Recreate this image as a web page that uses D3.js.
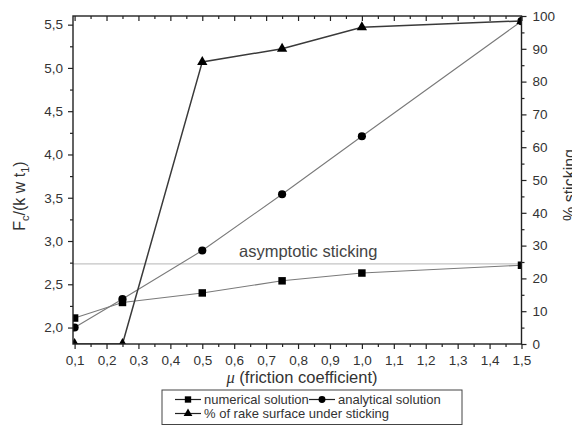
<!DOCTYPE html>
<html>
<head>
<meta charset="utf-8">
<script src="https://cdn.jsdelivr.net/npm/d3@7/dist/d3.min.js"></script>
<style>
  html, body { margin: 0; padding: 0; background: #fff; }
  svg { display: block; font-family: "Liberation Sans", Arial, sans-serif; }
</style>
</head>
<body>
<svg id="chart" width="572" height="426"></svg>
<script>
// Friction coefficient values where the cutting force was evaluated
const mu = [0.1, 0.25, 0.5, 0.75, 1.0, 1.5];
// Normalised cutting force Fc/(k w t1), left axis
const numerical = [2.11, 2.29, 2.40, 2.54, 2.63, 2.72];
const analytical = [2.00, 2.33, 2.89, 3.54, 4.21, 5.54];
// Share of rake surface under sticking, right axis (%)
const sticking = [0, 0, 86, 90, 96.6, 98.5];
// Asymptotic sticking level on the force axis
const asymptotic = 2.735;

const xMajor = [0.1, 0.2, 0.3, 0.4, 0.5, 0.6, 0.7, 0.8, 0.9, 1.0, 1.1, 1.2, 1.3, 1.4, 1.5];
const xMinor = [0.15, 0.25, 0.35, 0.45, 0.55, 0.65, 0.75, 0.85, 0.95, 1.05, 1.15, 1.25, 1.35, 1.45];
const yLeftMajor = [2.0, 2.5, 3.0, 3.5, 4.0, 4.5, 5.0, 5.5];
const yLeftMinor = [2.25, 2.75, 3.25, 3.75, 4.25, 4.75, 5.25];
const yRightMajor = [0, 10, 20, 30, 40, 50, 60, 70, 80, 90, 100];
const yRightMinor = [5, 15, 25, 35, 45, 55, 65, 75, 85, 95];

const legendRows = [
  [{ key: "numerical", label: "numerical solution", marker: "square" },
   { key: "analytical", label: "analytical solution", marker: "circle" }],
  [{ key: "sticking", label: "% of rake surface under sticking", marker: "triangle" }]
];

const svg = d3.select("#chart");
const L = 73, R = 521.5, T = 16, B = 344;
const axisColor = "#222";
const textColor = "#333";

const x = d3.scaleLinear().domain([0.095, 1.5]).range([L, R]);
const yL = d3.scaleLinear().domain([1.81, 5.6]).range([B, T]);
const yR = d3.scaleLinear().domain([0, 100]).range([B, T]);

const comma = v => d3.format(".1f")(v).replace(".", ",");

svg.append("defs").append("clipPath").attr("id", "plotclip")
  .append("rect").attr("x", L).attr("y", T).attr("width", R - L).attr("height", B - T);

const plot = svg.append("g").attr("clip-path", "url(#plotclip)");

// asymptotic sticking reference line
plot.append("line")
  .attr("x1", L).attr("x2", R)
  .attr("y1", yL(asymptotic)).attr("y2", yL(asymptotic))
  .attr("stroke", "#c4c4c4").attr("stroke-width", 1.2);

const symbols = {
  square: d3.symbol().type(d3.symbolSquare).size(56),
  circle: d3.symbol().type(d3.symbolCircle).size(52),
  triangle: d3.symbol().type(d3.symbolTriangle).size(46)
};

function series(values, yScale, stroke, width, marker) {
  const pts = mu.map((m, i) => [m, values[i]]);
  plot.append("path")
    .attr("d", d3.line().x(d => x(d[0])).y(d => yScale(d[1]))(pts))
    .attr("fill", "none").attr("stroke", stroke).attr("stroke-width", width);
  plot.selectAll(null).data(pts).enter().append("path")
    .attr("d", symbols[marker])
    .attr("transform", d => `translate(${x(d[0])},${yScale(d[1])})`)
    .attr("fill", "#000");
}

series(numerical, yL, "#7a7a7a", 1.1, "square");
series(analytical, yL, "#7a7a7a", 1.1, "circle");
series(sticking, yR, "#3a3a3a", 1.5, "triangle");

// asymptote label
svg.append("text")
  .attr("x", 239).attr("y", 257)
  .attr("font-size", 16.5).attr("fill", "#444")
  .text("asymptotic sticking");

// axes
function styleAxis(g) {
  g.select(".domain").remove();
  g.selectAll(".tick line").attr("stroke", axisColor).attr("stroke-width", 1.2);
  g.selectAll(".tick text").attr("fill", textColor)
    .attr("font-family", "'Liberation Sans', Arial, sans-serif");
}

// bottom
svg.append("g").attr("transform", `translate(0,${B})`)
  .call(d3.axisBottom(x).tickValues(xMajor).tickSize(5).tickPadding(6).tickFormat(comma))
  .call(styleAxis).call(g => g.selectAll(".tick text").attr("font-size", 13.5));
svg.append("g").attr("transform", `translate(0,${B})`)
  .call(d3.axisBottom(x).tickValues(xMinor).tickSize(3).tickFormat(""))
  .call(styleAxis);
// top (inward)
svg.append("g").attr("transform", `translate(0,${T})`)
  .call(d3.axisBottom(x).tickValues(xMajor).tickSize(5).tickFormat(""))
  .call(styleAxis);
svg.append("g").attr("transform", `translate(0,${T})`)
  .call(d3.axisBottom(x).tickValues(xMinor).tickSize(3).tickFormat(""))
  .call(styleAxis);
// left
svg.append("g").attr("transform", `translate(${L},0)`)
  .call(d3.axisLeft(yL).tickValues(yLeftMajor).tickSize(5).tickPadding(5).tickFormat(comma))
  .call(styleAxis).call(g => g.selectAll(".tick text").attr("font-size", 13.5));
svg.append("g").attr("transform", `translate(${L},0)`)
  .call(d3.axisLeft(yL).tickValues(yLeftMinor).tickSize(3).tickFormat(""))
  .call(styleAxis);
// right
svg.append("g").attr("transform", `translate(${R},0)`)
  .call(d3.axisRight(yR).tickValues(yRightMajor).tickSize(5).tickPadding(6).tickFormat(d3.format("d")))
  .call(styleAxis).call(g => g.selectAll(".tick text").attr("font-size", 13.5));
svg.append("g").attr("transform", `translate(${R},0)`)
  .call(d3.axisRight(yR).tickValues(yRightMinor).tickSize(3).tickFormat(""))
  .call(styleAxis);

// frame
svg.append("rect")
  .attr("x", L).attr("y", T).attr("width", R - L).attr("height", B - T)
  .attr("fill", "none").attr("stroke", axisColor).attr("stroke-width", 1.4);

// axis titles
const xt = svg.append("text")
  .attr("x", 302).attr("y", 383).attr("text-anchor", "middle")
  .attr("font-size", 16.5).attr("fill", textColor);
xt.append("tspan").attr("font-family", "'Liberation Serif', serif").attr("font-style", "italic").text("μ");
xt.append("tspan").text(" (friction coefficient)");

const yt = svg.append("text")
  .attr("transform", "translate(25,196) rotate(-90)")
  .attr("text-anchor", "middle").attr("font-size", 16).attr("fill", textColor);
yt.append("tspan").text("F");
yt.append("tspan").attr("font-size", 11).attr("dy", 4).text("c");
yt.append("tspan").attr("dy", -4).text("/(k w t");
yt.append("tspan").attr("font-size", 11).attr("dy", 4).text("1");
yt.append("tspan").attr("dy", -4).text(")");

svg.append("text")
  .attr("transform", "translate(575,185) rotate(-90)")
  .attr("text-anchor", "middle").attr("font-size", 16).attr("fill", textColor)
  .text("% sticking");

// legend
const lg = svg.append("g");
lg.append("rect").attr("x", 162).attr("y", 390).attr("width", 300).attr("height", 34.5)
  .attr("fill", "#fff").attr("stroke", "#444").attr("stroke-width", 1);
const rowY = [403.5, 417.5];
const colX = [175, 309];
legendRows.forEach((row, r) => {
  row.forEach((item, c) => {
    const x0 = colX[c], y0 = rowY[r] - 4;
    lg.append("line").attr("x1", x0).attr("x2", x0 + 26).attr("y1", y0).attr("y2", y0)
      .attr("stroke", "#222").attr("stroke-width", 1.2);
    lg.append("path").attr("d", symbols[item.marker])
      .attr("transform", `translate(${x0 + 13},${y0}) scale(0.85)`).attr("fill", "#000");
    lg.append("text").attr("x", x0 + 29).attr("y", rowY[r])
      .attr("font-size", 13).attr("fill", textColor).text(item.label);
  });
});
</script>
</body>
</html>
